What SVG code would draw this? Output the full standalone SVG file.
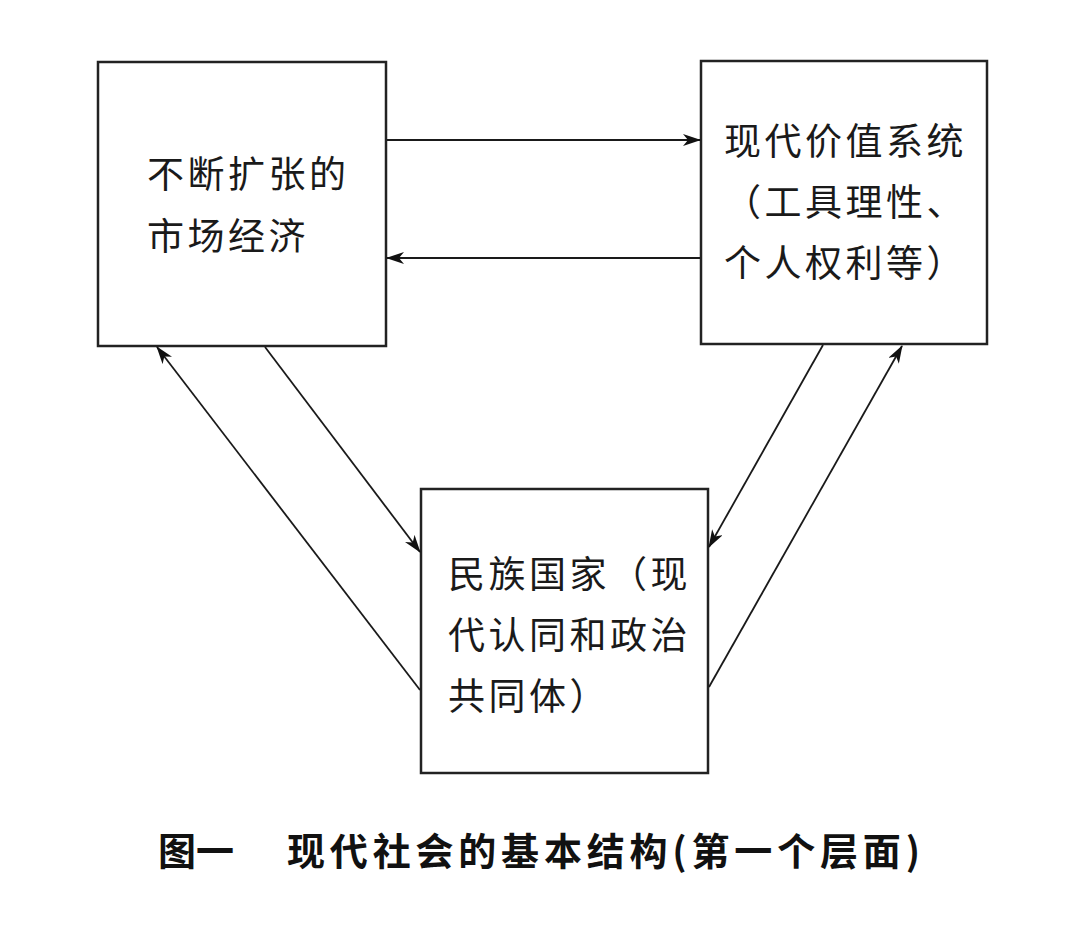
<svg xmlns="http://www.w3.org/2000/svg" width="1080" height="935" viewBox="0 0 1080 935">
<style>
.box{fill:#fff;stroke:#222;stroke-width:2.5}
.t{font-family:"Noto Sans CJK SC","Noto Sans CJK JP",sans-serif;font-size:37px;fill:#1a1a1a;letter-spacing:3.5px}
.cap{font-family:"Noto Sans CJK SC","Noto Sans CJK JP",sans-serif;font-size:38px;font-weight:bold;fill:#111}
.c{stroke:#1a1a1a;stroke-width:1.8;fill:none;marker-end:url(#ah)}
</style>
<defs>
<marker id="ah" viewBox="0 0 18 12" refX="17" refY="6" markerWidth="18" markerHeight="12" markerUnits="userSpaceOnUse" orient="auto">
<path d="M0,0 L18,6 L0,12 L5,6 z" fill="#111"/>
</marker>
</defs>
<rect width="1080" height="935" fill="#fff"/>
<g id="market">
<rect class="box" x="98" y="62" width="288" height="284"/>
<text class="t" x="147" y="188">不断扩张的</text>
<text class="t" x="147" y="250">市场经济</text>
</g>
<g id="values">
<rect class="box" x="701" y="61" width="286" height="283"/>
<text class="t" x="724" y="155">现代价值系统</text>
<text class="t" x="724" y="216">（工具理性、</text>
<text class="t" x="724" y="277">个人权利等）</text>
</g>
<g id="state">
<rect class="box" x="421" y="489" width="287" height="284"/>
<text class="t" x="448" y="588">民族国家（现</text>
<text class="t" x="448" y="649">代认同和政治</text>
<text class="t" x="448" y="710">共同体）</text>
</g>
<g id="connectors">
<line class="c" x1="387" y1="140" x2="700" y2="140"/>
<line class="c" x1="700" y1="258" x2="387" y2="258"/>
<line class="c" x1="420" y1="690" x2="157" y2="347"/>
<line class="c" x1="265" y1="347" x2="420" y2="552"/>
<line class="c" x1="823" y1="345" x2="709" y2="547"/>
<line class="c" x1="709" y1="687" x2="902" y2="346"/>
</g>
<g id="caption">
<text class="cap" x="158" y="865">图一</text>
<text class="cap" x="287" y="865" textLength="633" lengthAdjust="spacing">现代社会的基本结构(第一个层面)</text>
</g>
</svg>
